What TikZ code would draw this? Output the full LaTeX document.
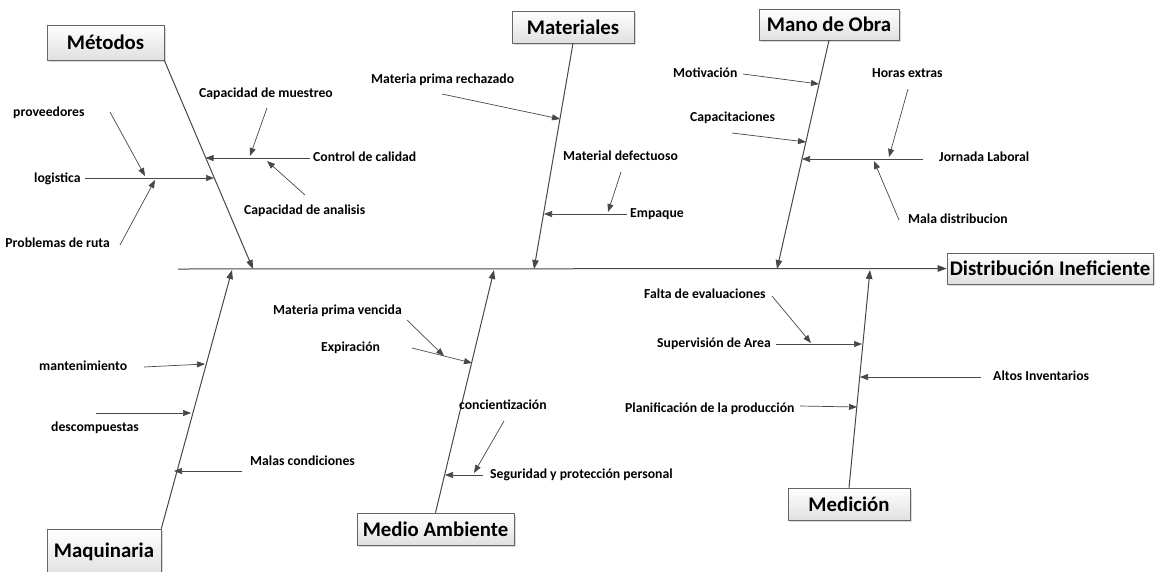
\documentclass[tikz,border=0pt]{standalone}
\usepackage{fontspec}
\setmainfont{Carlito}
\usetikzlibrary{arrows.meta,shadows}
\begin{document}
\begin{tikzpicture}[x=1pt,y=-1pt,
  lbl/.style={font=\fontsize{13.7}{15}\selectfont\bfseries, inner sep=0pt, text height=9pt, text depth=3pt, anchor=west},
  cat/.style={draw=black!60, line width=0.6pt, top color=white, bottom color=black!12,
    drop shadow={opacity=0.3,shadow xshift=2pt,shadow yshift=-2pt},
    font=\fontsize{20.8}{24}\selectfont\bfseries, inner sep=0pt},
  bone/.style={draw=black!72, line width=1pt, -{Triangle[length=9pt,width=6.5pt]}},
  twig/.style={draw=black!72, line width=0.7pt, -{Triangle[length=8pt,width=6pt]}},
]
\useasboundingbox (0,0) rectangle (1155,571);

% category boxes
\node[cat, minimum width=117pt, minimum height=35pt] (met) at (105.5,42.5) {Métodos};
\node[cat, minimum width=122pt, minimum height=32pt] (mat) at (573,27) {Materiales};
\node[cat, minimum width=140pt, minimum height=31pt] (mob) at (829,24.5) {Mano de Obra};
\node[cat, minimum width=206pt, minimum height=31pt] (dist) at (1050,268.5) {Distribución Ineficiente};
\node[cat, minimum width=114pt, minimum height=46pt] (maq) at (104,552) {Maquinaria};
\node[cat, minimum width=157pt, minimum height=32pt] (ma) at (435.5,529) {Medio Ambiente};
\node[cat, minimum width=122pt, minimum height=32pt] (med) at (849,504) {Medición};

% spine and bones
\coordinate (tail) at (178,269);
\coordinate (bmet) at (253,269);
\coordinate (bmat) at (534,269);
\coordinate (bmob) at (777,269);
\coordinate (bmaq) at (232,270);
\coordinate (bma) at (494,270);
\coordinate (bmed) at (870,270);
\draw[bone] (tail) -- (dist.west);
\draw[bone] (met.south east) -- (bmet);
\draw[bone] (mat.south) -- (bmat);
\draw[bone] (mob.south) -- (bmob);
\draw[bone] (maq.north east) -- (bmaq);
\draw[bone] (ma.north) -- (bma);
\draw[bone] (med.north) -- (bmed);

% Metodos
\node[lbl] (l1) at (313,158) {Control de calidad};
\node[lbl] (l2) at (199,94) {Capacidad de muestreo};
\node[lbl] (l3) at (244,211) {Capacidad de analisis};
\node[lbl] (l4) at (34,179) {logistica};
\node[lbl] (l5) at (13,113) {proveedores};
\node[lbl, anchor=east] (l6) at (110,244) {Problemas de ruta};
\coordinate (a1s) at (310,158); \coordinate (a1e) at (205.5,158);
\coordinate (a2s) at (267,108); \coordinate (a2e) at (250,156);
\coordinate (a3s) at (305,195); \coordinate (a3e) at (267,161);
\coordinate (a4s) at (85,178);  \coordinate (a4e) at (214,178);
\coordinate (a5s) at (110,112); \coordinate (a5e) at (145,176);
\coordinate (a6s) at (120,245); \coordinate (a6e) at (155,180);
\foreach \i in {1,...,6} {\draw[twig] (a\i s) -- (a\i e);}

% Materiales
\node[lbl] (l7) at (371,80) {Materia prima rechazado};
\node[lbl] (l8) at (563,157) {Material defectuoso};
\node[lbl] (l9) at (630,214) {Empaque};
\coordinate (b1s) at (442,94);  \coordinate (b1e) at (560,119);
\coordinate (b2s) at (627,214); \coordinate (b2e) at (544,214);
\coordinate (b3s) at (621,172); \coordinate (b3e) at (608,212);
\foreach \i in {1,...,3} {\draw[twig] (b\i s) -- (b\i e);}

% Mano de Obra
\node[lbl] (l10) at (673,74) {Motivación};
\node[lbl] (l11) at (690,118) {Capacitaciones};
\node[lbl] (l12) at (872,74) {Horas extras};
\node[lbl] (l13) at (939,158) {Jornada Laboral};
\node[lbl] (l14) at (908,220) {Mala distribucion};
\coordinate (c1s) at (743,74);  \coordinate (c1e) at (819,84);
\coordinate (c2s) at (732,133); \coordinate (c2e) at (806,142);
\coordinate (c3s) at (923,159); \coordinate (c3e) at (802,159);
\coordinate (c4s) at (908,89);  \coordinate (c4e) at (889,157);
\coordinate (c5s) at (899,220); \coordinate (c5e) at (874,161);
\foreach \i in {1,...,5} {\draw[twig] (c\i s) -- (c\i e);}

% Maquinaria
\node[lbl] (l15) at (39,367) {mantenimiento};
\node[lbl] (l16) at (51,428) {descompuestas};
\node[lbl] (l17) at (250,462) {Malas condiciones};
\coordinate (d1s) at (144,367); \coordinate (d1e) at (205,364);
\coordinate (d2s) at (96,413);  \coordinate (d2e) at (191,413);
\coordinate (d3s) at (242,471); \coordinate (d3e) at (174,471);
\foreach \i in {1,...,3} {\draw[twig] (d\i s) -- (d\i e);}

% Medio Ambiente
\node[lbl] (l18) at (273,311) {Materia prima vencida};
\node[lbl] (l19) at (321,348) {Expiración};
\node[lbl] (l20) at (459,406) {concientización};
\node[lbl] (l21) at (490,475) {Seguridad y protección personal};
\coordinate (e1s) at (407,320); \coordinate (e1e) at (444,356);
\coordinate (e2s) at (412,348); \coordinate (e2e) at (472,363);
\coordinate (e3s) at (504,421); \coordinate (e3e) at (474,473);
\coordinate (e4s) at (483,475); \coordinate (e4e) at (445,475);
\foreach \i in {1,...,4} {\draw[twig] (e\i s) -- (e\i e);}

% Medicion
\node[lbl] (l22) at (644,295) {Falta de evaluaciones};
\node[lbl] (l23) at (657,344) {Supervisión de Area};
\node[lbl] (l24) at (993,377) {Altos Inventarios};
\node[lbl] (l25) at (625,409) {Planificación de la producción};
\coordinate (f1s) at (772,296); \coordinate (f1e) at (811,343);
\coordinate (f2s) at (776,344); \coordinate (f2e) at (862,344);
\coordinate (f3s) at (981,377); \coordinate (f3e) at (860,377);
\coordinate (f4s) at (800,406); \coordinate (f4e) at (857,407);
\foreach \i in {1,...,4} {\draw[twig] (f\i s) -- (f\i e);}
\end{tikzpicture}
\end{document}
